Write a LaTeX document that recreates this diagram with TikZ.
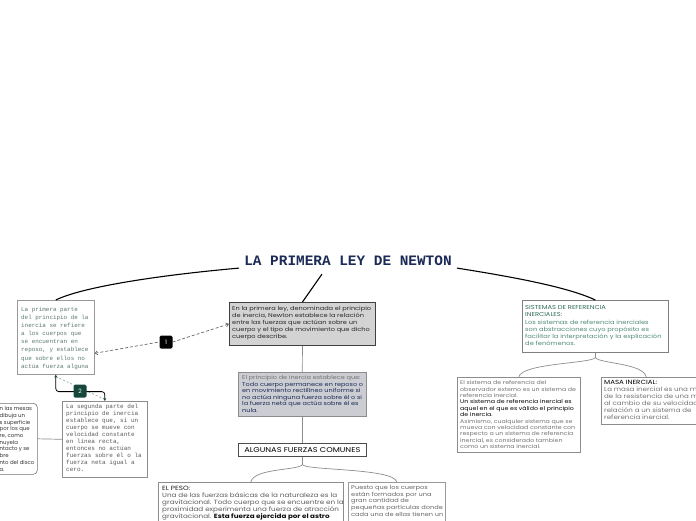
\documentclass[tikz,border=0pt]{standalone}
\usepackage{fontspec}
\setmainfont{Poppins}[FakeStretch=1.18]
\newfontfamily\plainsans{Poppins}
\newfontfamily\monofont{Liberation Mono}
\usetikzlibrary{arrows.meta}
\definecolor{cNavy}{HTML}{1C2B55}
\definecolor{cGreenGrey}{HTML}{5B7A6C}
\definecolor{cTeal}{HTML}{2D6A58}
\definecolor{cTealL}{HTML}{4F8A78}
\definecolor{cLab}{HTML}{17463A}
\definecolor{cMain}{HTML}{D3D3D3}
\definecolor{cBoxThree}{HTML}{CBCDD3}
\definecolor{cDash}{HTML}{8AB0A0}
\begin{document}
\begin{tikzpicture}[x=1pt,y=-1pt,
  box/.style={draw=#1, rectangle, anchor=north west, inner sep=0pt, line width=0.6pt},
  box/.default={black!45},
  txt/.style={anchor=north west, inner sep=0pt, align=left},
  lab/.style={rectangle, rounded corners=1.5pt, minimum width=13pt, minimum height=13pt, inner sep=0pt, text=white, font=\plainsans\fontsize{6}{6}\selectfont},
  thick line/.style={black, line width=1.1pt},
  thin line/.style={black!45, line width=0.7pt}]
\useasboundingbox (0,0) rectangle (696,520);
\clip (0,0) rectangle (696,520);

% title
\node[inner sep=2pt, text=cNavy, font=\monofont\bfseries\fontsize{14.4}{14}\selectfont] (ttl) at (348,261) {LA PRIMERA LEY DE NEWTON};

% boxes
\node[box=black!40, minimum width=77pt, minimum height=74pt] (b1) at (17,300) {};
\node[txt, text=cGreenGrey, font=\monofont\fontsize{5.9}{8.1}\selectfont] (t1) at (21,307) {La primera parte\\del principio de la\\inercia se refiere\\a los cuerpos que\\se encuentran en\\reposo, y establece\\que sobre ellos no\\actúa fuerza alguna};

\node[box=black!45, minimum width=85pt, minimum height=76pt] (b2) at (62,401) {};
\node[txt, text=black!65, font=\monofont\fontsize{6}{7.1}\selectfont] (t2) at (66,403.5) {La segunda parte del\\principio de inercia\\establece que, si un\\cuerpo se mueve con\\velocidad constante\\en línea recta,\\entonces no actúan\\fuerzas sobre él o la\\fuerza neta igual a\\cero.};

\node[box=black!55, rounded corners=4pt, minimum width=60pt, minimum height=71pt] (b0) at (-23,403) {};
\node[txt, text=black!80, font=\plainsans\fontsize{5.4}{6.7}\selectfont] (t0) at (-0.5,406.5) {n las mesas\\dibuja un\\s superficie\\ por los que\\re, como\\nuyela\\ntacto y se\\bre\\nto del disco\\a.};

\node[box=black!75, fill=cMain, line width=0.9pt, minimum width=146pt, minimum height=43pt] (mb) at (229,302) {};
\node[txt, text=black!85, font=\fontsize{5.6}{7}\selectfont] (tm) at (232,306.5) {En la primera ley, denominada el principio\\de inercia, Newton establece la relación\\entre las fuerzas que actúan sobre un\\cuerpo y el tipo de movimiento que dicho\\cuerpo describe.};

\node[box=black!45, fill=cBoxThree, minimum width=128pt, minimum height=44pt] (b3) at (238,372) {};
\node[txt, text=cNavy, font=\fontsize{5.5}{6.5}\selectfont] (t3) at (242,375.5) {\textcolor{black!55}{El principio de inercia establece que:}\\Todo cuerpo permanece en reposo o\\en movimiento rectilíneo uniforme si\\no actúa ninguna fuerza sobre él o si\\la fuerza neta que actúa sobre él es\\nula.};

\node[box=black!70, minimum width=128pt, minimum height=13pt, font=\fontsize{7}{7}\selectfont] (alg) at (238,443) {ALGUNAS FUERZAS COMUNES};

\node[box=black!45, minimum width=185pt, minimum height=50pt] (peso) at (158,482) {};
\node[txt, text=black!65, font=\fontsize{6.1}{7}\selectfont] (tp) at (162,485.5) {\textcolor{black!90}{EL PESO:}\\Una de las fuerzas básicas de la naturaleza es la\\gravitacional. Todo cuerpo que se encuentre en la\\proximidad experimenta una fuerza de atracción\\gravitacional. \textcolor{black!95}{\bfseries Esta fuerza ejercida por el astro}};

\node[box=black!40, minimum width=97pt, minimum height=50pt] (part) at (348,482) {};
\node[txt, text=black!60, font=\fontsize{5.6}{6.8}\selectfont] (tq) at (351,485) {Puesto que los cuerpos\\están formados por una\\gran cantidad de\\pequeñas partículas donde\\cada una de ellas tienen un};

\node[box=black!50, minimum width=146pt, minimum height=52pt] (sys) at (522,300) {};
\node[txt, text=cTealL, font=\fontsize{5.7}{7.2}\selectfont] (ts) at (525,305.5) {\textcolor{cTeal}{SISTEMAS DE REFERENCIA}\\\textcolor{cTeal}{INERCIALES:}\\Los sistemas de referencia inerciales\\son abstracciones cuyo propósito es\\facilitar la interpretación y la explicación\\de fenómenos.};

\node[box=black!45, minimum width=123pt, minimum height=75pt] (obs) at (457,377) {};
\node[txt, text=black!55, font=\fontsize{5.3}{6.4}\selectfont] (to) at (460,380.5) {El sistema de referencia del\\observador externo es un sistema de\\referencia inercial.\\\textcolor{black}{Un sistema de referencia inercial es}\\\textcolor{black}{aquel en el que es válido el principio}\\\textcolor{black}{de inercia.}\\Asimismo, cualquier sistema que se\\mueva con velocidad constante con\\respecto a un sistema de referencia\\inercial, es considerado tambien\\como un sistema inercial.};

\node[box=black!45, minimum width=100pt, minimum height=47pt] (masa) at (601,377) {};
\node[txt, text=black!55, font=\fontsize{6}{7}\selectfont] (tma) at (604,380.5) {\textcolor{black}{MASA INERCIAL:}\\La masa inercial es una medida\\de la resistencia de una masa\\al cambio de su velocidad con\\relación a un sistema de\\referencia inercial.};

% title connectors
\draw[thick line] ([xshift=-3pt]ttl.south west) .. controls (150,276) and (80,288) .. (b1.north);
\draw[thick line] ([xshift=-26pt,yshift=-6pt]ttl.south) -- (mb.north);
\draw[thick line] ([xshift=3pt]ttl.south east) .. controls (520,278) and (570,288) .. (sys.north);

% main chain
\draw[thin line] (mb.south) -- (b3.north);
\draw[thin line] (b3.south) -- (alg.north);
\draw[thin line] (alg.south) -- ++(0,8) coordinate (s1);
\draw[thin line] (s1) .. controls +(-4,6) and +(3,-14) .. (peso.north);
\draw[thin line] (s1) .. controls +(4,6) and +(-3,-14) .. (part.north);

\draw[thin line] (sys.south) -- ++(0,5) coordinate (s2);
\draw[thin line] (s2) .. controls +(-4,6) and +(3,-14) .. (obs.north);
\draw[thin line] (s2) .. controls +(4,6) and +(-3,-14) .. ([xshift=-5pt]masa.north);

\draw[thin line] (b0.east) -- (b2.west);

% relation 1
\node[lab, fill=black] (l1) at (166,342) {1};
\draw[black!60, line width=0.7pt, dash pattern=on 3pt off 2pt, {Straight Barb[length=2.5pt,width=4pt]}-] ([yshift=-16pt]b1.east) -- (l1.west);
\draw[black!60, line width=0.7pt, dash pattern=on 3pt off 2pt, -{Straight Barb[length=2.5pt,width=4pt]}] (l1.east) -- (mb.west);

% relation 2
\draw[cDash, line width=0.7pt, dash pattern=on 2pt off 2pt] ([yshift=-2pt]b1.south) -- ([xshift=-1pt,yshift=2pt]b2.north);
\draw[black, line width=0.8pt, rounded corners=3pt, {Stealth[length=3pt,width=3pt,color=cLab]}-{Stealth[length=3pt,width=3pt,color=cLab]}] (b1.south) -- ++(0,17) -| (b2.north);
\node[lab, fill=cLab] (l2) at (80,391) {2};
\end{tikzpicture}
\end{document}
